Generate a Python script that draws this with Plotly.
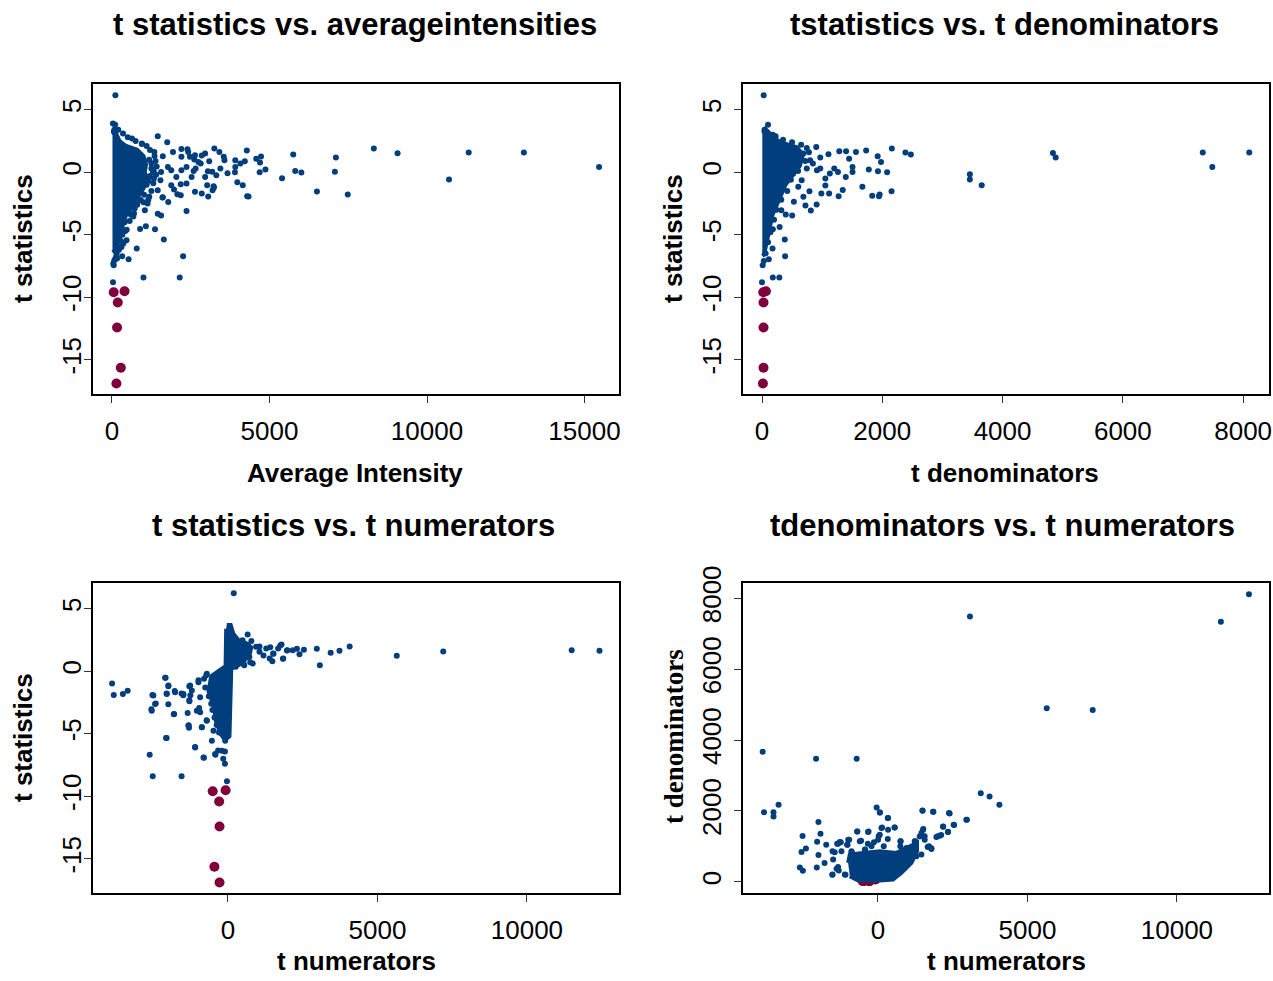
import plotly.graph_objects as go

W, H = 1273, 981
BLUE = '#003E7E'
MAROON = '#7F003C'

# ---------------- data ----------------
# highlighted genes (maroon)
hl_t = [-9.60, -9.52, -10.43, -12.43, -15.65, -16.91]
hl_intensity = [54, 398, 183, 161, 280, 140]
hl_denominator = [20, 65, 25, 25, 25, 15]
hl_numerator = [-510, -79, -295, -283, -454, -283]

# panel 1: average intensity vs t statistic
p1_intensity = [108, 1452, 634, 946, 1753, 8312, 9065, 11323, 13075, 15462, 5753, 7108, 5817, 6011, 7076,
                10699, 5398, 6506, 7484, 4280, 4581, 4731, 4699, 4871, 4688, 3979, 4151, 4291, 4334, 3914,
                4076, 4216, 3914, 3903, 3667, 3549, 3570, 3248, 3409, 3441, 3312, 3226, 3054, 3183, 3043,
                3086, 2957, 2850, 2817, 2613, 2419, 2204, 2398, 2591, 2527, 2366, 2366, 2258, 2150, 999,
                785, 527, 323, 1645, 1366, 1075, 892, 1043, 1452, 1559, 1785, 1613, 1968, 2075, 2182,
                2634, 2849, 3021, 3236, 2183, 1882, 1538, 2043, 1882, 1774, 1559, 1323, 2204, 1936, 1613,
                1344, 2204, 2473, 2634, 2742, 2366, 2656, 2957, 3193, 1602, 1452, 1183, 1129, 914, 699,
                462, 301, 75, 54, 32, 1206, 1418, 1312, 1153, 677, 466, 360, 148, 42, 1350, 1100, 950,
                750, 500, 350, 200, 100, 60, 1300, 1250, 1000, 800, 550, 400, 250, 120, 30, 70,
                1150, 1020, 880, 720, 600, 560, 420, 330, 280, 220, 160,
                1250, 1380, 1200, 1330, 1180, 1100, 1250, 1400]
p1_t = [6.16, 2.88, 2.69, 2.26, 2.40, 1.89, 1.52, 1.57, 1.57, 0.42, 1.41, 1.17, 0.10, -0.03, 0.03,
        -0.59, -0.48, -1.55, -1.79, 1.73, 1.07, 1.25, 0.77, 0.21, 0.00, -0.80, -1.04, -1.92, -1.95, 0.96,
        0.69, 0.88, 0.42, 0.00, -0.08, 1.23, 0.96, 1.89, 1.62, 0.29, -0.24, -1.12, -1.95, 0.03, 0.08,
        0.88, 1.49, 1.33, 0.69, 1.01, 1.62, 1.86, 1.84, 0.10, -0.38, -0.91, -3.10, -6.72, -8.43, -8.43,
        -6.11, -6.96, -6.72, -5.39, -4.56, -4.32, -4.54, -3.04, -3.33, -3.47, -2.38, -2.00, -1.39, -1.76, -0.96,
        -1.57, -1.71, -1.04, -1.23, -1.85, -1.04, -0.64, -0.38, 0.15, 0.42, 0.02, 0.10, 0.15, 1.62, 1.28,
        1.62, 1.23, 1.23, 1.36, 0.82, 0.42, 0.29, -0.38, -1.44, -2.03, -1.44, -1.97, -2.51, -2.24, -3.30,
        -5.44, -5.98, -7.04, -7.44, -8.80, 1.78, 0.45, -0.88, -2.20, -3.55, -4.60, -5.70, -6.50, -7.30, 1.30, 2.10, 2.30,
        2.50, 2.80, 3.10, 3.40, 3.80, 3.30, 0.00, -1.50, -2.40, -2.60, -3.20, -4.00, -6.00, -6.80, 3.90, 3.20,
        -0.70, -1.80, -2.20, -2.90, -3.40, -3.90, -4.70, -5.00, -5.50, -6.20, -6.90,
        0.70, 0.90, -0.30, -0.50, 1.00, -1.00, 0.30, -0.20]
# overplotted (solid) core of panel 1, outline
p1_core_intensity = [15, 80, 150, 240, 450, 800, 1000, 1080, 1040, 1100, 1000, 850, 620, 450, 350, 280, 190, 80, 15]
p1_core_t = [3.4, 3.5, 3.0, 2.5, 2.1, 1.8, 1.3, 0.6, 0.0, -0.5, -1.3, -1.9, -2.7, -3.4, -4.2, -5.0, -5.6, -6.3, -6.4]

# panel 2: t denominator vs t statistic
p2_denominator = [28, 226, 2159, 2385, 2475, 4837, 4883, 7329, 7487, 8102, 3456, 3456, 3653, 1731, 1923,
                  1979, 1776, 1928, 2080, 2154, 1956, 1945, 1833, 1669, 1562, 1398, 1285, 1449, 1505, 1505,
                  1393, 1342, 1274, 1263, 1201, 1128, 1105, 969, 902, 744, 688, 846, 913, 1054, 1054,
                  1116, 987, 908, 812, 722, 789, 688, 660, 603, 530, 502, 395, 321, 293, 180,
                  378, 384, 175, 113, 11, 180, 288, 0, 304, 462, 603, 519, 744, 800, 969, 575,
                  100, 40, 180, 350, 500, 780, 720, 600, 480, 420, 320, 240, 200, 140, 100, 60, 30, 250, 650]
p2_t = [6.16, 2.88, 1.89, 1.57, 1.41, 1.54, 1.17, 1.57, 0.42, 1.57, -0.16, -0.59, -1.04, 1.73, 1.28,
        0.82, 0.21, 0.08, 0.00, -1.52, -1.79, -1.92, -1.89, -1.17, 1.62, 1.68, 1.68, 1.07, 0.42, 0.02,
        -0.38, -1.42, -1.92, 0.02, 0.29, -0.11, 1.44, 1.17, 2.02, 1.94, 1.49, 0.69, 0.16, -0.51, -1.07,
        -1.71, -1.71, -2.59, -3.07, -2.67, -1.52, -1.97, -0.64, -1.17, -2.37, -3.47, -3.39, -3.04, -4.38, -4.56,
        -5.39, -6.72, -6.11, -6.96, -7.44, -8.43, -8.43, -8.80, 2.29, 1.23, 0.69, -0.11, 0.29, 0.96, 0.29, 1.62,
        3.80, 3.30, 3.00, 2.60, 2.40, 1.60, 0.90, 0.10, -0.60, -1.50, -2.20, -3.00, -3.80, -4.80, -5.60, -6.50, -7.10, 2.10, 2.20]
p2_core_denominator = [5, 50, 150, 300, 580, 680, 630, 500, 390, 320, 240, 175, 140, 100, 65, 35, 5]
p2_core_t = [3.4, 3.5, 3.0, 2.4, 2.0, 1.4, 0.5, -0.3, -1.0, -1.8, -2.6, -3.4, -4.2, -5.0, -5.9, -6.6, -6.7]

# panel 3: t numerator vs t statistic
p3_numerator = [193, -3878, -3821, -3515, -3356, -2528, -2562, -2415, -2086, -1995, -2052, -1995, -1814, -2052, -2619,
                -2517, -1553, -1100, -805, -873, -1315, -1304, -1349, -1780, -1553, -1497, -1258, -1293, -1293, -986,
                -964, -930, -714, -726, -590, -420, -159, -102, -34, -329, -102,
                658, 782, 1791, 1485, 1848, 1984, 2166, 2392, 2540, 2971, 3073, 3435, 3730, 4070, 5646,
                7200, 11497, 12427, 1281, 1508, 1054, 1678, 1395, 828, 544, 714, 941, 488, 261,
                1055, 1413, 1748, 1972, 2307, 1838, 1524, 1189, 743, 520,
                -2103, -1992, -2046, -1768, -1490, -1266, -1209, -988, -707, -931, -1289, -1802, -1323, -874,
                -1042, -707, -2070, -1098, -820, -429, -539, -204, -94, -485, -2495, -2439, -2550,
                -800, -760, -640, -560, -520, -450, -380, -300]
p3_t = [6.23, -0.99, -1.90, -1.82, -1.56, -1.90, -3.05, -2.59, -0.53, -1.20, -1.79, -2.65, -3.45, -5.35, -6.68,
        -8.40, -8.40, -6.07, -6.93, -4.49, -4.33, -4.52, -3.34, -1.58, -1.79, -1.93, -1.93, -1.20, -2.33, -0.72,
        -2.94, -3.29, -3.93, -0.32, -1.52, -6.68, -7.01, -7.41, -8.80, -6.34, -6.42,
        2.94, 2.41, 2.14, 0.80, 1.01, 1.68, 1.68, 1.36, 1.71, 1.79, 0.48, 1.47, 1.63, 1.98, 1.23,
        1.58, 1.68, 1.63, 1.82, 1.42, 1.55, 1.82, 1.01, 0.61, 0.48, 1.14, 1.95, 2.48, 0.35,
        1.98, 1.92, 2.06, 1.66, 1.79, 0.99, 1.39, 1.25, 0.72, 0.59,
        -0.53, -1.15, -1.82, -1.69, -1.82, -1.15, -1.55, -0.89, -0.21, -2.09, -2.41, -3.42, -4.36, -4.49,
        -3.16, -3.96, -5.35, -6.10, -6.90, -6.63, -5.56, -6.36, -5.56, -4.76, -1.95, -2.62, -3.16,
        -0.60, -1.30, -2.00, -2.60, -3.10, -3.70, -4.30, -4.90]
p3_core_numerator = [-40, 90, 180, 350, 650, 780, 720, 450, 110, 100, 70, 50, -100, -250, -400, -480, -650, -560,
                     -300, -80, -60]
p3_core_t = [3.7, 3.7, 3.0, 2.5, 2.2, 1.9, 1.3, 0.6, 0.2, -1.5, -3.4, -5.2, -5.5, -5.0, -4.0, -2.8, -1.6, -0.4,
             0.05, 0.4, 3.4]

# panel 4: t numerator vs t denominator
p4_numerator = [12409, 11470, 3077, 5645, 7183, -3857, -2070, -713, 3439, 3733, 4061, -3326, -3812, -3495, -3495,
                -45, 68, 1493, 1855, 2398, 2975, 2545, 2183, 2342, 2115, 2002, 1787, 1663, -1991, -1923,
                -2523, -2410, -2557, -2613, -2512, -2036, -2047, -1787, -1991, -1731, -1527, -1335, -1244, -995, -1018,
                -1448, -1222, -882, -1312, -1335, -1086, -690, -566, -317, -339, -136, 23, 136, 328, 554,
                328, 758, 1244, 1516, 1561, 1233, 747, 192, -430,
                60, 338, 1486, 1841, 2375, 2956, 2532, 2342, 2175, 2064, 1954, 1707, 1787, 1507, 1453,
                1563, 1396, 1229, 338, 561, 117, 60, 3, -331, -698, -608, -965, -1032, -1276, -1366,
                -1520, -885, -441, -217, 751, 952, -1500, -1386, -1520, -1109, 1229, 1453, 1286]
p4_denominator = [8113, 7336, 7486, 4894, 4847, 3668, 3471, 3471, 2498, 2405, 2171, 2171, 1965, 1965, 1843,
                  2096, 1956, 2002, 1974, 1928, 1750, 1600, 1553, 1413, 1319, 1282, 945, 982, 1684, 1357,
                  1291, 936, 842, 402, 309, 1132, 402, 533, 758, 1048, 196, 1076, 1113, 1188, 1048,
                  833, 861, 842, 318, 421, 196, 1422, 1160, 1422, 1076, 1113, 1282, 1535, 1797, 1535,
                  1207, 1142, 1142, 1488, 1282, 1048, 1001, 1001, 908,
                  1955, 1798, 2011, 1975, 1938, 1750, 1610, 1404, 1562, 1301, 1264, 1000, 927, 1469, 1376,
                  1188, 1281, 1141, 1469, 1534, 1517, 1329, 1188, 1404, 1422, 1141, 1188, 1048, 1124, 1076,
                  860, 860, 907, 1000, 1141, 955, 626, 365, 205, 205, 907, 767, 720]
p4_core_numerator = [-998, -942, -498, 60, 618, 1062, 1306, 1306, 1119, 785, 504, 60, -665, -942]
p4_core_denominator = [534, 767, 815, 860, 815, 1000, 1095, 860, 534, 253, 65, 40, 40, 157]

# axes ticks
t_ticks = [-15, -10, -5, 0, 5]
intensity_ticks = [0, 5000, 10000, 15000]
denominator_ticks = [0, 2000, 4000, 6000, 8000]
numerator_ticks = [0, 5000, 10000]

t_range = [-17.75, 7.06]
intensity_range = [-603, 16095]
denominator_range = [-316, 8430]
numerator_range = [-4515, 13080]

# ---------------- figure ----------------
fig = go.Figure()

panels = [
    ('x', 'y', p1_intensity, p1_t, p1_core_intensity, p1_core_t, hl_intensity, hl_t),
    ('x2', 'y2', p2_denominator, p2_t, p2_core_denominator, p2_core_t, hl_denominator, hl_t),
    ('x3', 'y3', p3_numerator, p3_t, p3_core_numerator, p3_core_t, hl_numerator, hl_t),
    ('x4', 'y4', p4_numerator, p4_denominator, p4_core_numerator, p4_core_denominator, hl_numerator, hl_denominator),
]
for xa, ya, xs, ys, cx, cy, hx, hy in panels:
    fig.add_trace(go.Scatter(x=hx, y=hy, mode='markers', xaxis=xa, yaxis=ya,
                             marker=dict(color=MAROON, size=10, line=dict(width=0)), hoverinfo='skip'))
    fig.add_trace(go.Scatter(x=cx, y=cy, mode='lines', fill='toself', fillcolor=BLUE, xaxis=xa, yaxis=ya,
                             line=dict(color=BLUE, width=4), hoverinfo='skip'))
    fig.add_trace(go.Scatter(x=xs, y=ys, mode='markers', xaxis=xa, yaxis=ya,
                             marker=dict(color=BLUE, size=6, line=dict(width=0)), hoverinfo='skip'))

TICKFONT = dict(family='Liberation Sans, Arial, sans-serif', size=26, color='black')


def ax(domain, rng, ticks, anchor, **kw):
    d = dict(domain=domain, range=rng, tickmode='array', tickvals=ticks, ticktext=[str(v) for v in ticks],
             showline=True, mirror=True, linecolor='black', linewidth=2, ticks='outside', ticklen=7,
             tickwidth=1, tickcolor='#333', showgrid=False, zeroline=False, tickfont=TICKFONT,
             anchor=anchor, fixedrange=True, automargin=False)
    d.update(kw)
    return d


def dx(a, b):
    return [a / W, b / W]


def dy(top, bottom):
    return [1 - bottom / H, 1 - top / H]


LX, RX = dx(93, 619), dx(743, 1269)
TY, BY = dy(84, 394), dy(583, 893)

fig.update_layout(
    width=W, height=H, margin=dict(l=0, r=0, t=0, b=0, autoexpand=False), showlegend=False,
    paper_bgcolor='white', plot_bgcolor='white',
    xaxis=ax(LX, intensity_range, intensity_ticks, 'y', ticklabelstandoff=6),
    yaxis=ax(TY, t_range, t_ticks, 'x', tickangle=-90, ticklabelstandoff=-7),
    xaxis2=ax(RX, denominator_range, denominator_ticks, 'y2', ticklabelstandoff=6),
    yaxis2=ax(TY, t_range, t_ticks, 'x2', tickangle=-90, ticklabelstandoff=3),
    xaxis3=ax(LX, numerator_range, numerator_ticks, 'y3', ticklabelstandoff=6),
    yaxis3=ax(BY, t_range, t_ticks, 'x3', tickangle=-90, ticklabelstandoff=-7),
    xaxis4=ax(RX, numerator_range, numerator_ticks, 'y4', ticklabelstandoff=6),
    yaxis4=ax(BY, denominator_range, denominator_ticks, 'x4', tickangle=-90, ticklabelstandoff=3),
)

BOLD = 'Liberation Sans, Arial, sans-serif'


def note(text, x, y, size, family=BOLD, angle=0):
    fig.add_annotation(text=text, x=x / W, y=1 - y / H, xref='paper', yref='paper', showarrow=False,
                       xanchor='center', yanchor='middle', textangle=angle,
                       font=dict(family=family, size=size, color='black'))


note('<b>t statistics vs. averageintensities</b>', 355, 25, 31)
note('<b>tstatistics vs. t denominators</b>', 1004, 25, 31)
note('<b>t statistics vs. t numerators</b>', 353, 525, 31)
note('<b>tdenominators vs. t numerators</b>', 1002, 525, 31)

note('<b>Average Intensity</b>', 355, 473, 26)
note('<b>t denominators</b>', 1005, 473, 26)
note('<b>t numerators</b>', 356, 961, 26)
note('<b>t numerators</b>', 1006, 961, 26)

note('<b>t statistics</b>', 23, 239, 26, angle=-90)
note('<b>t statistics</b>', 673, 239, 26, angle=-90)
note('<b>t statistics</b>', 23, 738, 26, angle=-90)
note('<b>t denominators</b>', 674, 737, 27, family='Liberation Serif, Times New Roman, serif', angle=-90)

fig.write_html('out.html')
